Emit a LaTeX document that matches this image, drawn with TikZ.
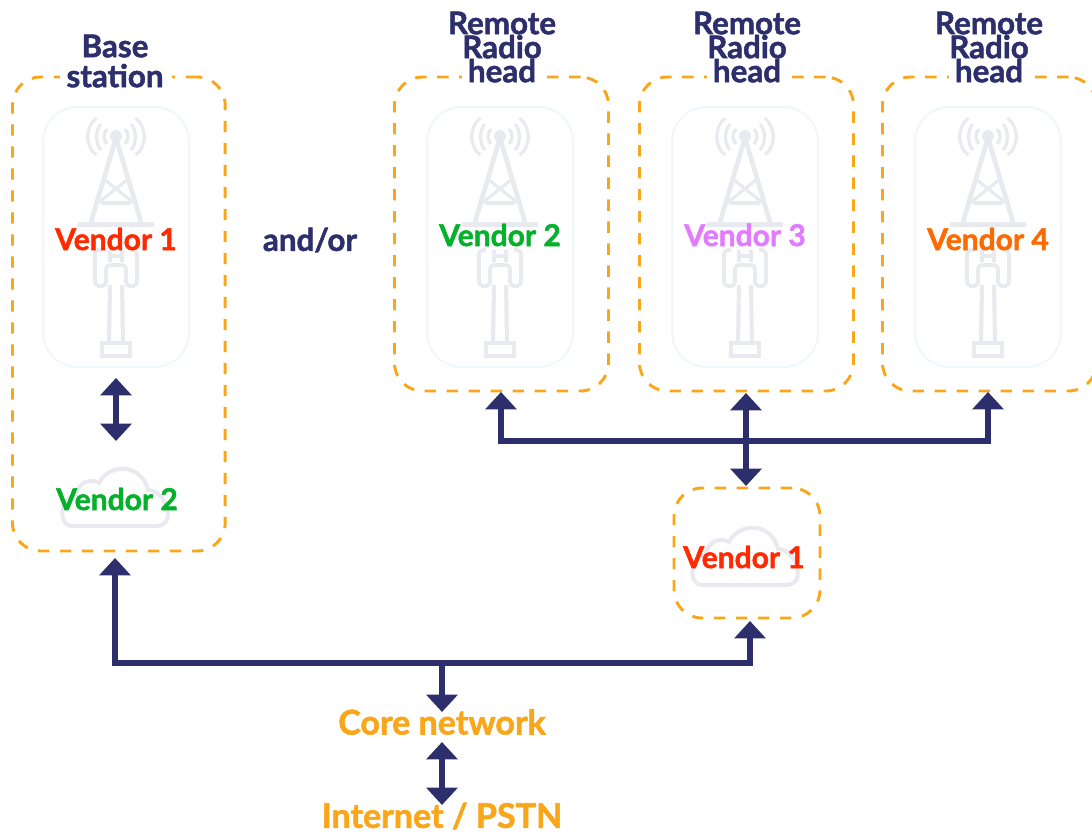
\documentclass[tikz,border=0pt]{standalone}
\usepackage{fontspec}
\setmainfont{Lato}[BoldFeatures={FakeBold=1.6}]
\usetikzlibrary{arrows.meta}
\definecolor{navy}{HTML}{2C2F6B}
\definecolor{dashor}{HTML}{FAA61A}
\definecolor{iconc}{HTML}{E9E9F0}
\definecolor{cardc}{HTML}{EFF7FC}
\definecolor{vred}{HTML}{FF2A00}
\definecolor{vgreen}{HTML}{05B02A}
\definecolor{vpink}{HTML}{E27BFF}
\definecolor{vorange}{HTML}{FF6A00}
\tikzset{
  x=0.75pt,y=-0.75pt,
  dashbox/.style={draw=dashor,line width=2.2pt,dash pattern=on 8.5pt off 8pt,rounded corners=21pt,inner sep=0,outer sep=0,anchor=north west},
  card/.style={draw=cardc,line width=1.5pt,rounded corners=26pt,inner sep=0,outer sep=0,minimum width=109.5pt,minimum height=195pt,anchor=north west},
  vlabel/.style={font=\fontsize{22.5}{22.5}\selectfont\bfseries,inner sep=0},
  title/.style={font=\fontsize{23.5}{18}\selectfont\bfseries,text=navy,align=center,inner sep=0},
  basetitle/.style={font=\fontsize{23.5}{22.5}\selectfont\bfseries,text=navy,align=center,inner sep=0},
  orangelabel/.style={font=\fontsize{25.5}{25.5}\selectfont\bfseries,text=dashor,inner sep=0},
  conn/.style={draw=navy,line width=4.2pt},
  headone/.style={-{Triangle[width=23pt,length=13pt]}},
  headtwo/.style={{Triangle[width=23pt,length=13pt]}-{Triangle[width=23pt,length=13pt]}},
  pics/towericon/.style={code={
    \begin{scope}[draw=iconc,line width=3.5pt,line cap=butt]
      \fill[iconc] (0,136) circle (6);
      \draw[line width=2.4pt] (-9,129) .. controls (-13,133) and (-13,140) .. (-9,144);
      \draw[line width=2.4pt] (9,129) .. controls (13,133) and (13,140) .. (9,144);
      \draw[line width=2.4pt] (-15,124) .. controls (-21,131) and (-21,143) .. (-15,150);
      \draw[line width=2.4pt] (15,124) .. controls (21,131) and (21,143) .. (15,150);
      \draw[line width=2.4pt] (-20,118) .. controls (-31,128) and (-31,146) .. (-20,155);
      \draw[line width=2.4pt] (20,118) .. controls (31,128) and (31,146) .. (20,155);
      \draw (0,138) -- (-25,222) (0,138) -- (25,222);
      \draw[line width=3pt] (-15,203) -- (15,203);
      \draw[line width=2.4pt] (-11,180) -- (18,203) (11,180) -- (-18,203);
      \fill[iconc] (-38,222) rectangle (38,227);
      \draw[line width=2.8pt,rounded corners=3pt] (-14,250) -- (-21,250) -- (-21,286) -- (-10,286) -- (-10,265) -- (10,265) -- (10,286) -- (21,286) -- (21,250) -- (14,250);
      \draw[line width=2.4pt] (-6,250) -- (-6,262) (6,250) -- (6,262) (-6,256) -- (6,256);
      \draw[line width=3pt] (-6,285) -- (-7,342) (6,285) -- (7,342);
      \draw[line width=2.6pt] (-14,343) rectangle (14,356);
    \end{scope}}},
  pics/cloudicon/.style={code={
    \draw[iconc,line width=3pt]
      (-44,26) .. controls (-58,26) and (-57,-2) .. (-40,-5)
      .. controls (-38,-18) and (-26,-22) .. (-17,-17)
      .. controls (-6,-38) and (26,-36) .. (32,-10)
      .. controls (50,-10) and (62,26) .. (40,26) -- cycle;
  }},
}
\begin{document}
\begin{tikzpicture}
\useasboundingbox (0,0) rectangle (1092,833);
% cards and icons
\node[card] (cardA) at (43,107) {};
\node[card] (cardB) at (427,107) {};
\node[card] (cardC) at (672,107) {};
\node[card] (cardD) at (915,107) {};
\pic at (116,0) {towericon};
\pic at (500,0) {towericon};
\pic at (745,0) {towericon};
\pic at (988,0) {towericon};
\pic at (116,500) {cloudicon};
\pic at (746,559) {cloudicon};
% dashed boxes
\node[dashbox,minimum width=159.5pt,minimum height=355.5pt] (boxA) at (12.5,77) {};
\node[dashbox,minimum width=160.5pt,minimum height=235.5pt] (boxB) at (394.5,77) {};
\node[dashbox,minimum width=160.5pt,minimum height=235.5pt] (boxC) at (639.5,77) {};
\node[dashbox,minimum width=160.5pt,minimum height=235.5pt] (boxD) at (882.5,77) {};
\node[dashbox,minimum width=109.5pt,minimum height=97.5pt] (boxE) at (674,488) {};
% gaps in the dashed boxes behind the titles
\fill[white] (60,68) rectangle (172,88);
\fill[white] (462,66) rectangle (542,86);
\fill[white] (707,66) rectangle (787,86);
\fill[white] (949,66) rectangle (1029,86);
% titles
\node[basetitle] (tA) at (115,61) {Base\\station};
\node[title] (tB) at (502,47) {Remote\\Radio\\head};
\node[title] (tC) at (747,47) {Remote\\Radio\\head};
\node[title] (tD) at (989,47) {Remote\\Radio\\head};
% vendor labels
\node[vlabel,text=vred] (v1) at (116,239) {Vendor 1};
\node[vlabel,text=vgreen] (v2) at (500,235) {Vendor 2};
\node[vlabel,text=vpink] (v3) at (745,235) {Vendor 3};
\node[vlabel,text=vorange] (v4) at (988,239) {Vendor 4};
\node[vlabel,text=vgreen] (v5) at (117,499) {Vendor 2};
\node[vlabel,text=vred] (v6) at (744,557) {Vendor 1};
\node[title] (andor) at (310,240) {and/or};
\node[orangelabel] (core) at (442,722) {Core network};
\node[orangelabel] (inet) at (442,816) {Internet / PSTN};
% connector ends
\coordinate (a1) at (116,378);
\coordinate (a2) at (116,441);
\coordinate (bA) at (115,558);
\coordinate (bE) at (750,621);
\coordinate (hubL) at (442,663);
\coordinate (coreT) at (442,712);
\coordinate (coreB) at (442,742);
\coordinate (inetT) at (442,805);
\coordinate (bB) at (501,392);
\coordinate (bC) at (746,393);
\coordinate (bD) at (988,392);
\coordinate (eT) at (746,486);
\coordinate (hubU) at (746,441);
% connectors
\draw[conn,headtwo] (a1) -- (a2);
\draw[conn,headtwo] (bA) |- (hubL) -| (bE);
\draw[conn,headone] (hubL) -- (coreT);
\draw[conn,headtwo] (coreB) -- (inetT);
\draw[conn,headtwo] (bB) |- (hubU) -| (bD);
\draw[conn,headtwo] (bC) -- (eT);
\end{tikzpicture}
\end{document}
